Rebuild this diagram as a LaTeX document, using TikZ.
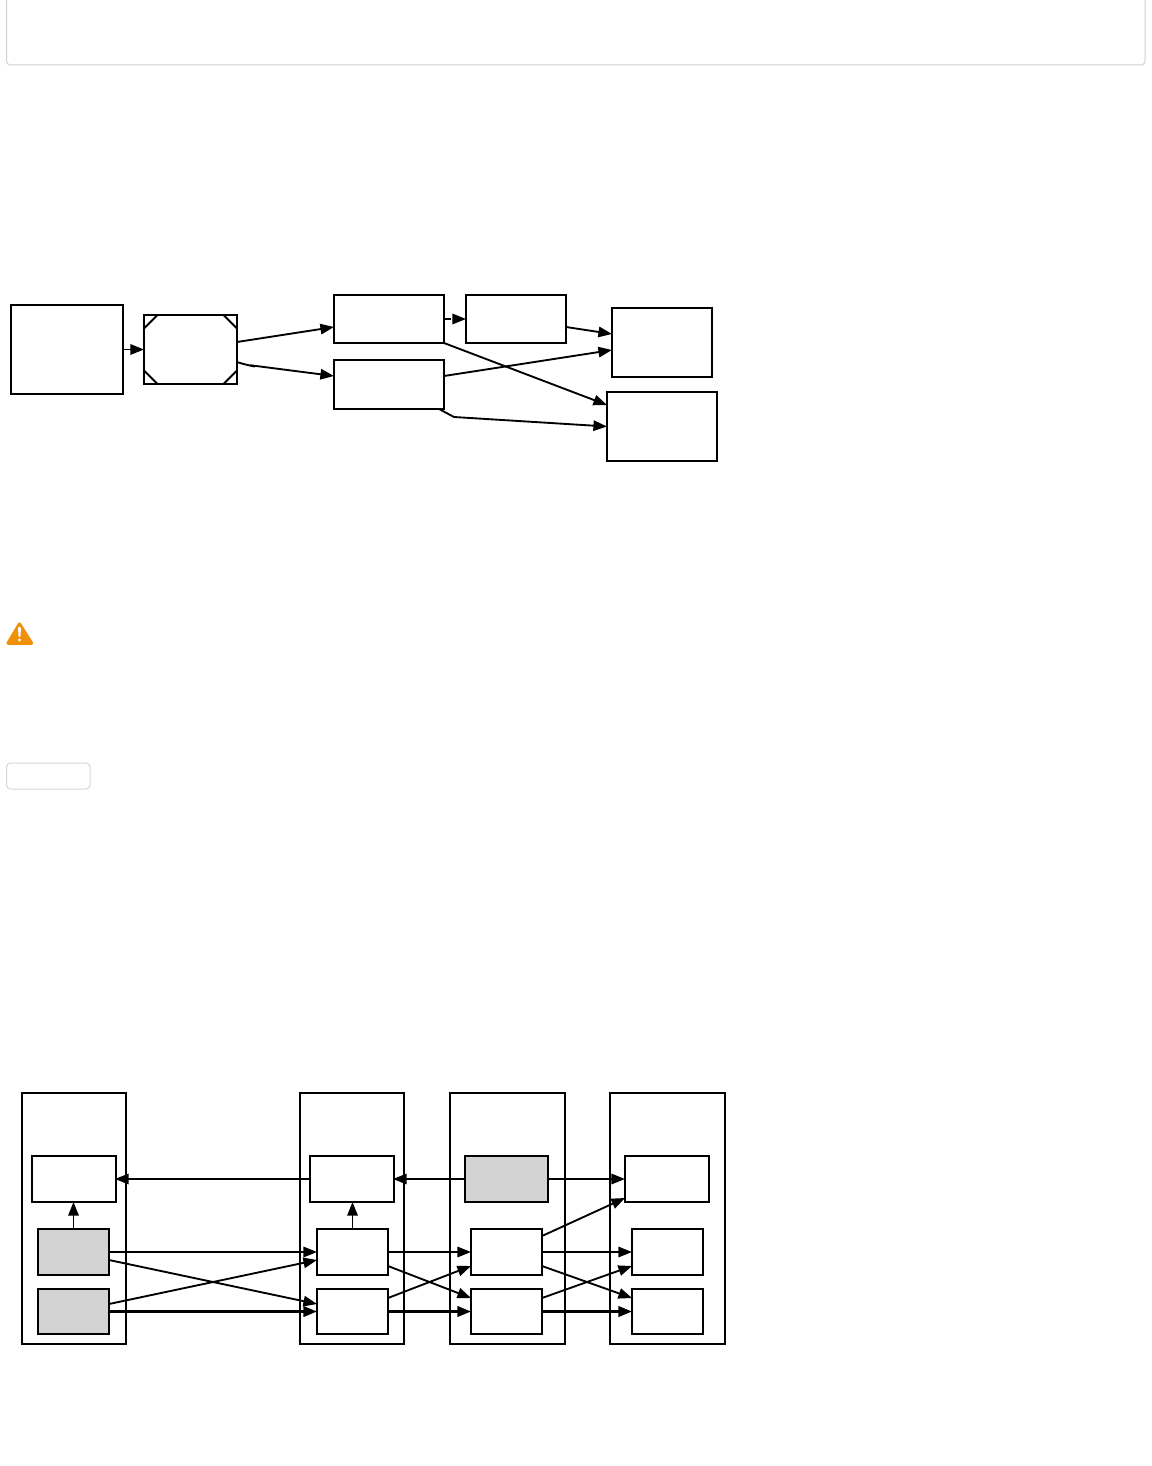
\documentclass[tikz,border=0pt]{standalone}
\usetikzlibrary{arrows.meta}
\def\p{0.75pt}
\definecolor{boxgrey}{HTML}{D3D3D3}
\definecolor{panelline}{HTML}{D0D0D0}
\definecolor{warnorange}{HTML}{F09008}
\tikzset{
  bx/.style={draw=black,line width=1.4pt,fill=white,inner sep=0pt,outer sep=0pt},
  gbx/.style={bx,fill=boxgrey},
  wh/.style 2 args={minimum width=#1*\p,minimum height=#2*\p},
  conn/.style={draw=black,line width=1.4pt,-{Triangle[length=10.2pt,width=7.8pt]}},
  thickconn/.style={conn,line width=2pt},
  cut/.style={draw=black,line width=1.4pt},
  panel/.style={draw=panelline,line width=0.75pt,rounded corners=3pt,fill=white}
}
\begin{document}
\begin{tikzpicture}[x=0.75pt,y=-0.75pt]
\useasboundingbox (0,0) rectangle (1152,1466);
% panels
\begin{scope}
\clip (0,0) rectangle (1152,1466);
\node[panel,wh={1138.5}{85},inner sep=0pt,outer sep=0pt] (toppanel) at (575.75,22.5) {};
\end{scope}
\node[panel,draw=panelline!85!white,wh={83.5}{26},inner sep=0pt,outer sep=0pt] (button) at (48.25,776) {};
% warning icon
\fill[warnorange,draw=warnorange,line width=2.4pt,line join=round] (19.5,624) -- (8,643.2) -- (31.6,643.2) -- cycle;
\fill[white,rounded corners=0.6pt] (18,627) -- (21,627) -- (20.5,637) -- (18.5,637) -- cycle;
\fill[white] (19.5,640) circle[radius=1.7];
% upper diagram
\node[bx,wh={112}{89}] (A) at (67,349.5) {};
\node[bx,wh={93}{69}] (B) at (190.5,349.5) {};
\node[bx,wh={110}{48}] (C) at (389,319) {};
\node[bx,wh={110}{49}] (D) at (389,384.5) {};
\node[bx,wh={100}{48}] (E) at (516,319) {};
\node[bx,wh={100}{69}] (F) at (662,342.5) {};
\node[bx,wh={110}{69}] (G) at (662,426.5) {};
\draw[cut] ([yshift=-13.5*\p]B.north west) -- ([xshift=13.5*\p]B.north west);
\draw[cut] ([yshift=-13.5*\p]B.north east) -- ([xshift=-13.5*\p]B.north east);
\draw[cut] ([yshift=13.5*\p]B.south west) -- ([xshift=13.5*\p]B.south west);
\draw[cut] ([yshift=13.5*\p]B.south east) -- ([xshift=-13.5*\p]B.south east);
\draw[conn] (A.east) -- (B.west);
\draw[conn] ([yshift=7.5*\p]B.east) -- ([yshift=-8*\p]C.west);
\draw[conn] ([yshift=-12.5*\p]B.east) .. controls +(4,1.6) and +(9,2.6) .. ([xshift=13*\p,yshift=-15.7*\p]B.east) -- ([yshift=8.5*\p]D.west);
\draw[conn,dash pattern=on 5pt off 20pt] (C.east) -- (E.west);
\draw[conn] ([yshift=-8*\p]E.east) -- ([yshift=8.5*\p]F.west);
\draw[conn] ([yshift=8.5*\p]D.east) -- ([yshift=-7.5*\p]F.west);
\draw[conn] (C.south east) -- ([yshift=21.5*\p]G.west);
\draw[conn] ([xshift=-5*\p]D.south east) -- ([xshift=10*\p,yshift=-8*\p]D.south east) -- (G.west);
% lower diagram: columns
\node[bx,wh={104}{251}] (P1) at (74,1218.5) {};
\node[bx,wh={104}{251}] (P2) at (352,1218.5) {};
\node[bx,wh={115}{251}] (P3) at (507.5,1218.5) {};
\node[bx,wh={115}{251}] (P4) at (667.5,1218.5) {};
\node[bx,wh={84}{46}] (a1) at (74,1179) {};
\node[gbx,wh={71}{46}] (a2) at (73.5,1252) {};
\node[gbx,wh={71}{45}] (a3) at (73.5,1311.5) {};
\node[bx,wh={84}{46}] (b1) at (352,1179) {};
\node[bx,wh={71}{46}] (b2) at (352.5,1252) {};
\node[bx,wh={71}{45}] (b3) at (352.5,1311.5) {};
\node[gbx,wh={83}{46}] (c1) at (506.5,1179) {};
\node[bx,wh={71}{46}] (c2) at (506.5,1252) {};
\node[bx,wh={71}{45}] (c3) at (506.5,1311.5) {};
\node[bx,wh={84}{46}] (d1) at (667,1179) {};
\node[bx,wh={71}{46}] (d2) at (667.5,1252) {};
\node[bx,wh={71}{45}] (d3) at (667.5,1311.5) {};
% lower diagram: connectors
\draw[conn] (b1.west) -- ([xshift=-1*\p]a1.east);
\draw[conn] (a2.north) -- (a2.north |- a1.south);
\draw[conn] (b2.north) -- (b2.north |- b1.south);
\draw[conn] (c1.west) -- ([xshift=-1*\p]b1.east);
\draw[conn] (c1.east) -- (d1.west);
\draw[conn] (a2.east) -- (b2.west);
\draw[conn] ([yshift=-8*\p]a2.east) -- ([yshift=7.5*\p]b3.west);
\draw[conn] ([yshift=7.5*\p]a3.east) -- ([yshift=-8*\p]b2.west);
\draw[thickconn] (a3.east) -- (b3.west);
\draw[conn] (b2.east) -- (c2.west);
\draw[conn] ([yshift=-14*\p]b2.east) -- ([yshift=13.5*\p]c3.west);
\draw[conn] ([yshift=13.5*\p]b3.east) -- ([yshift=-14*\p]c2.west);
\draw[thickconn] (b3.east) -- (c3.west);
\draw[conn] ([yshift=16*\p]c2.east) -- ([yshift=-19*\p]d1.west);
\draw[conn] (c2.east) -- (d2.west);
\draw[conn] ([yshift=-14*\p]c2.east) -- ([yshift=13.5*\p]d3.west);
\draw[conn] ([yshift=13.5*\p]c3.east) -- ([yshift=-14*\p]d2.west);
\draw[thickconn] (c3.east) -- (d3.west);
\end{tikzpicture}
\end{document}
